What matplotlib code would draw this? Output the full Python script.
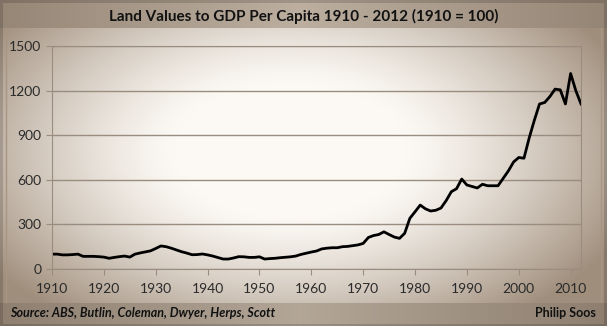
import numpy as np
import matplotlib
matplotlib.use('Agg')
import matplotlib.pyplot as plt

# land values to GDP per capita, 1910 = 100
years = np.arange(1910, 2013)
values = [100, 100, 95, 95, 97, 100, 85, 85, 85, 83,
          80, 72, 78, 83, 87, 80, 100, 108, 115, 122,
          138, 155, 150, 140, 128, 116, 107, 96, 97, 101,
          95, 87, 77, 67, 67, 74, 83, 82, 78, 78,
          82, 67, 70, 72, 76, 79, 82, 87, 98, 106,
          114, 121, 135, 140, 143, 143, 150, 152, 157, 162,
          172, 212, 225, 232, 250, 232, 215, 206, 240, 341,
          385, 430, 405, 390, 395, 410, 460, 520, 540, 605,
          565, 555, 545, 570, 560, 560, 560, 610, 660, 720,
          750, 745, 880, 1000, 1110, 1120, 1160, 1210, 1205, 1110,
          1315, 1200, 1110]
xticks = list(range(1910, 2011, 10))
yticks = [0, 300, 600, 900, 1200, 1500]

title = 'Land Values to GDP Per Capita 1910 - 2012 (1910 = 100)'
source = 'Source: ABS, Butlin, Coleman, Dwyer, Herps, Scott'
author = 'Philip Soos'

W, H = 607, 326
fig = plt.figure(figsize=(W / 100, H / 100), dpi=100)

# sepia vignette background
yy, xx = np.mgrid[0:H, 0:W]
d = np.sqrt(((xx - 290) / 330.0) ** 2 + ((yy - 150) / 190.0) ** 2)
t = np.clip((d - 0.35) / 0.75, 0, 1) ** 1.3
centre = np.array([252, 249, 244]) / 255.0
edge = np.array([160, 142, 124]) / 255.0
bg = centre * (1 - t[..., None]) + edge * t[..., None]
# title and footer bands
hx = np.abs(xx - 300) / 300.0
band_c = np.array([188, 175, 160]) / 255.0
band_e = np.array([150, 134, 118]) / 255.0
band = band_c * (1 - hx[..., None]) + band_e * hx[..., None]
top = yy < 28
bot = yy > 302
bg[top] = band[top]
bg[bot] = band[bot] * 0.95
# dark outer rim
rim = (yy < 3) | (yy > H - 3) | (xx < 3) | (xx > W - 4)
bg[rim] = bg[rim] * 0.85
bgax = fig.add_axes([0, 0, 1, 1])
bgax.imshow(bg, aspect='auto', extent=[0, W, H, 0])
bgax.plot([6, 6], [28, 302], color='#a89682', lw=1)
bgax.plot([601, 601], [28, 302], color='#a89682', lw=1)
bgax.set_xlim(0, W)
bgax.set_ylim(H, 0)
bgax.axis('off')

ax = fig.add_axes([52 / W, 1 - 269 / H, (581 - 52) / W, (269 - 46) / H])
ax.set_facecolor('none')
ax.plot(years, values, color='black', lw=2.0, solid_joinstyle='round')
ax.set_xlim(1910, 2012)
ax.set_ylim(0, 1500)
ax.set_xticks(xticks)
ax.set_yticks(yticks)
ax.yaxis.grid(True, color='#9a8d80', lw=1)
ax.set_axisbelow(True)
for s in ax.spines.values():
    s.set_color('#9a8d80')
ax.tick_params(colors='#9a8d80', labelcolor='#2a2a2a', labelsize=10,
               length=4, direction='out')
ax.tick_params(axis='x', pad=6)
for lab in ax.get_xticklabels() + ax.get_yticklabels():
    lab.set_family('Lato')

fig.text(0.5, 1 - 16 / H, title, ha='center', va='center',
         fontsize=11, fontweight='bold', family='Lato', color='#111111')
fig.text(10 / W, 1 - 313 / H, source, ha='left', va='center',
         fontsize=9, fontweight='bold', style='italic', family='Lato', color='#111111')
fig.text(596 / W, 1 - 313 / H, author, ha='right', va='center',
         fontsize=9, fontweight='bold', family='Lato', color='#111111')

fig.savefig('out.png', dpi=100)
